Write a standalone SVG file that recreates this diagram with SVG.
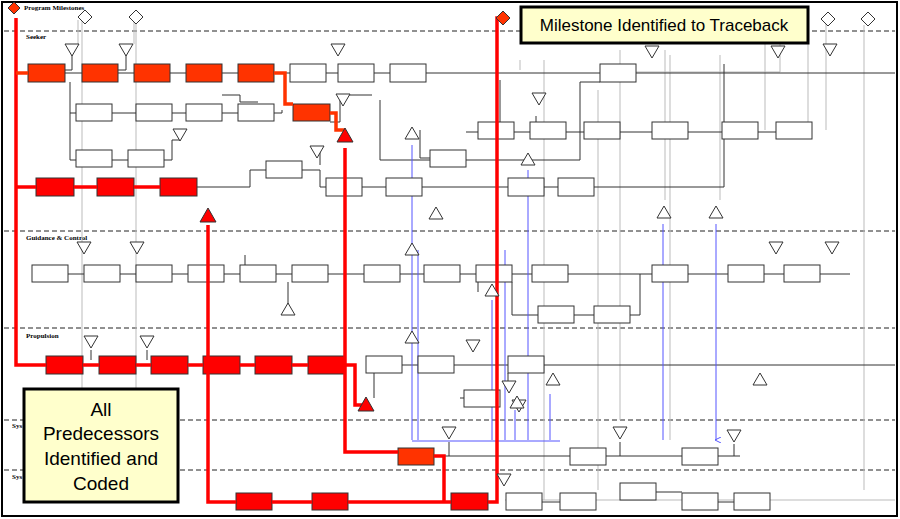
<svg xmlns="http://www.w3.org/2000/svg" xmlns:xlink="http://www.w3.org/1999/xlink" width="900" height="519" viewBox="0 0 900 519">
<style>
.w{fill:#fff;stroke:#333;stroke-width:1}
.r{fill:#f00;stroke:#333;stroke-width:1}
.o{fill:#ff3300;stroke:#333;stroke-width:1}
.ln{fill:none;stroke:#333;stroke-width:1}
.g{fill:none;stroke:#bbb;stroke-width:1}
.b{fill:none;stroke:#55f;stroke-width:1;marker-end:url(#ab)}
.rd{fill:none;stroke:#f00;stroke-width:3.5}
.ro{fill:none;stroke:#ff3300;stroke-width:3.5}
.dash{stroke:#222;stroke-width:1;stroke-dasharray:5,3}
.lane{font-family:"Liberation Serif",serif;font-size:7px;font-weight:bold;fill:#000}
.call{fill:#ffffcc;stroke:#000;stroke-width:3}
.ct{font-family:"Liberation Sans",Arial,sans-serif;fill:#000}
</style>
<defs>
<marker id="ab" markerWidth="6" markerHeight="6" refX="3" refY="5" orient="auto" markerUnits="userSpaceOnUse"><path d="M0,0 L3,6 L6,0" fill="none" stroke="#55f"/></marker>
<path id="td" d="M-7,0 H7 L0,12 Z" fill="#fff" stroke="#333"/>
<path id="tu" d="M-7,12 H7 L0,0 Z" fill="#fff" stroke="#333"/>
<path id="tr" d="M-8,14 H8 L0,0 Z" fill="#f00" stroke="#333"/>
<path id="dm" d="M-7,0 L0,-7 L7,0 L0,7 Z" fill="#fff" stroke="#333"/>
</defs>
<rect x="0" y="0" width="900" height="519" fill="#fff"/>
<rect x="2" y="2" width="895" height="514" fill="none" stroke="#000" stroke-width="2"/>
<g id="lanes">
<line class="dash" x1="4" y1="31" x2="895" y2="31"/>
<line class="dash" x1="4" y1="231" x2="895" y2="231"/>
<line class="dash" x1="4" y1="328" x2="895" y2="328"/>
<line class="dash" x1="4" y1="420" x2="895" y2="420"/>
<line class="dash" x1="4" y1="470" x2="895" y2="470"/>
<text class="lane" x="24" y="10">Program Milestones</text>
<text class="lane" x="26" y="39">Seeker</text>
<text class="lane" x="26" y="240">Guidance &amp; Control</text>
<text class="lane" x="26" y="338">Propulsion</text>
<text class="lane" x="12" y="428" font-size="5">Sys</text>
<text class="lane" x="12" y="479" font-size="5">Sys</text>
</g>
<g id="connectors">
<path class="g" d="M78,20 V44 M82,20 V490 M134,20 V44 M136,20 V490 M808,20 V130 M826,20 V130 M864,25 V490 M598,90 V490 M620,50 V420 M665,50 V200 M670,55 V440 M720,55 V200 M765,40 V130 M520,60 V70 M544,60 V500 M505,500 H895 M636,72 H780 V20"/>
<path class="ln" d="M65,73 H82 M118,73 H134 M170,73 H186 M222,73 H238 M274,73 H290 M326,73 H338 M374,73 H390 M426,73 H895 M72,52 V70 H65 M126,52 V70 H118 M70,82 V160 H76 M70,113 H76 M112,113 H136 M172,113 H186 M222,113 H238 M112,160 H128 M164,160 H172 V140 H180 M222,95 H240 V102 H258 M274,113 H282 V110 M362,187 H386 M422,187 H508 M544,187 H558 M594,187 H724 V64 M302,170 H320 V187 H326 M266,170 H250 V187 H197 M68,274 H84 M120,274 H136 M172,274 H188 M224,274 H240 M276,274 H292 M328,274 H364 M400,274 H424 M460,274 H476 M512,274 H532 M568,274 H652 M688,274 H728 M764,274 H784 M820,274 H850 M574,315 H594 M630,315 H640 V274 M512,282 V315 H538 M478,292 V282 M402,365 H418 M454,365 H508 M544,365 H895 M434,456 H570 M606,456 H682 M718,456 H740 M542,502 H560 M656,492 H682 M718,502 H734 M466,132 H478 M514,132 H530 M566,132 H584 M620,132 H652 M688,132 H722 M758,132 H776 M460,398 H464 M430,158 H420 V130 M380,100 V160 H580 V90 M340,100 V122 H330 M348,95 H372 M600,82 H580 V90 M536,116 V122 M500,80 V122 M320,150 V165 M288,282 V305 M245,255 V274 M91,350 V360 M147,350 V360 M374,398 V373 M508,383 V373 M449,442 V456 M620,442 V456 M734,444 V456"/>
<path class="b" d="M412,145 V440 M418,250 V440 M492,300 V440 M505,250 V440 M515,410 V440 M528,170 V440 M550,394 V440 M663,224 V440 M716,224 V440"/>
<path d="M412,441 H560" fill="none" stroke="#55f"/>
</g>
<g id="seeker">
<rect class="o" x="28" y="64" width="37" height="18"/><rect class="o" x="82" y="64" width="36" height="18"/><rect class="o" x="134" y="64" width="36" height="18"/><rect class="o" x="186" y="64" width="36" height="18"/><rect class="o" x="238" y="64" width="36" height="18"/>
<rect class="w" x="290" y="64" width="36" height="18"/><rect class="w" x="338" y="64" width="36" height="18"/><rect class="w" x="390" y="64" width="36" height="18"/><rect class="w" x="600" y="64" width="36" height="18"/>
<rect class="w" x="76" y="104" width="36" height="17"/><rect class="w" x="136" y="104" width="36" height="17"/><rect class="w" x="186" y="104" width="36" height="17"/><rect class="w" x="238" y="104" width="36" height="17"/><rect class="o" x="293" y="104" width="37" height="17"/>
<rect class="w" x="478" y="122" width="36" height="17"/><rect class="w" x="530" y="122" width="36" height="17"/><rect class="w" x="584" y="122" width="36" height="17"/><rect class="w" x="652" y="122" width="36" height="17"/><rect class="w" x="722" y="122" width="36" height="17"/><rect class="w" x="776" y="122" width="36" height="17"/>
<rect class="w" x="76" y="150" width="36" height="17"/><rect class="w" x="128" y="150" width="36" height="17"/><rect class="w" x="430" y="150" width="36" height="17"/><rect class="w" x="266" y="161" width="36" height="17"/>
<rect class="r" x="36" y="178" width="38" height="18"/><rect class="r" x="97" y="178" width="37" height="18"/><rect class="r" x="160" y="178" width="37" height="18"/>
<rect class="w" x="326" y="178" width="36" height="18"/><rect class="w" x="386" y="178" width="36" height="18"/><rect class="w" x="508" y="178" width="36" height="18"/><rect class="w" x="558" y="178" width="36" height="18"/>
</g>
<g id="guidance">
<rect class="w" x="32" y="265" width="36" height="17"/><rect class="w" x="84" y="265" width="36" height="17"/><rect class="w" x="136" y="265" width="36" height="17"/><rect class="w" x="188" y="265" width="36" height="17"/><rect class="w" x="240" y="265" width="36" height="17"/><rect class="w" x="292" y="265" width="36" height="17"/><rect class="w" x="364" y="265" width="36" height="17"/><rect class="w" x="424" y="265" width="36" height="17"/><rect class="w" x="476" y="265" width="36" height="17"/><rect class="w" x="532" y="265" width="36" height="17"/><rect class="w" x="652" y="265" width="36" height="17"/><rect class="w" x="728" y="265" width="36" height="17"/><rect class="w" x="784" y="265" width="36" height="17"/>
<rect class="w" x="538" y="306" width="36" height="17"/><rect class="w" x="594" y="306" width="36" height="17"/>
</g>
<g id="propulsion">
<rect class="r" x="46" y="356" width="37" height="18"/><rect class="r" x="99" y="356" width="37" height="18"/><rect class="r" x="151" y="356" width="37" height="18"/><rect class="r" x="203" y="356" width="37" height="18"/><rect class="r" x="255" y="356" width="37" height="18"/><rect class="r" x="308" y="356" width="37" height="18"/>
<rect class="w" x="366" y="356" width="36" height="17"/><rect class="w" x="418" y="356" width="36" height="17"/><rect class="w" x="508" y="356" width="36" height="17"/><rect class="w" x="464" y="390" width="36" height="17"/>
</g>
<g id="systems">
<rect class="o" x="398" y="448" width="36" height="17"/><rect class="w" x="570" y="448" width="36" height="17"/><rect class="w" x="682" y="448" width="36" height="17"/>
<rect class="w" x="620" y="483" width="36" height="17"/>
<rect class="r" x="236" y="493" width="36" height="17"/><rect class="r" x="312" y="493" width="36" height="17"/><rect class="r" x="451" y="493" width="37" height="17"/>
<rect class="w" x="506" y="493" width="36" height="17"/><rect class="w" x="560" y="493" width="36" height="17"/><rect class="w" x="682" y="493" width="36" height="17"/><rect class="w" x="734" y="493" width="36" height="17"/>
</g>
<g id="trace-path">
<path class="rd" d="M16,18 V365 H46 M83,365 H99 M136,365 H151 M188,365 H203 M240,365 H255 M292,365 H308 M345,365 H355 V405 H366 M16,187 H36 M74,187 H97 M134,187 H160 M208,225 V502 H236 M272,502 H312 M348,502 H451 M345,148 V452 H398 M434,456 H444 V502 M488,502 H497 V18 H504"/>
<path class="ro" d="M16,73 H28 M274,73 H285 V104 H293 M330,113 H336 V130 H345"/>
</g>
<g id="markers">
<path d="M8,8 L14,2 L20,8 L14,14 Z" fill="#ff3300" stroke="#333"/>
<path d="M496,18 L503,11 L510,18 L503,25 Z" fill="#ff3300" stroke="#333"/>
<use href="#dm" x="85" y="17"/><use href="#dm" x="136" y="17"/>
<use href="#dm" x="828" y="19"/><use href="#dm" x="868" y="19"/>
<use href="#td" x="72" y="44"/><use href="#td" x="126" y="44"/><use href="#td" x="180" y="129"/><use href="#td" x="317" y="146"/><use href="#td" x="343" y="94"/><use href="#td" x="539" y="93"/><use href="#td" x="652" y="46"/><use href="#td" x="778" y="46"/><use href="#td" x="830" y="44"/><use href="#td" x="338" y="44"/><use href="#td" x="84" y="242"/><use href="#td" x="137" y="242"/><use href="#td" x="776" y="242"/><use href="#td" x="832" y="242"/><use href="#td" x="91" y="336"/><use href="#td" x="147" y="336"/><use href="#td" x="473" y="340"/><use href="#td" x="509" y="381"/><use href="#td" x="519" y="400"/><use href="#td" x="449" y="427"/><use href="#td" x="620" y="427"/><use href="#td" x="734" y="430"/><use href="#td" x="504" y="474"/>
<use href="#tu" x="412" y="127"/><use href="#tu" x="528" y="153"/><use href="#tu" x="436" y="207"/><use href="#tu" x="412" y="243"/><use href="#tu" x="288" y="303"/><use href="#tu" x="412" y="331"/><use href="#tu" x="492" y="284"/><use href="#tu" x="664" y="206"/><use href="#tu" x="716" y="206"/><use href="#tu" x="553" y="373"/><use href="#tu" x="517" y="396"/><use href="#tu" x="760" y="373"/>
<use href="#tr" x="345" y="128"/><use href="#tr" x="208" y="208"/><use href="#tr" x="366" y="397"/>
</g>
<g id="callout-top">
<rect class="call" x="521" y="7" width="287" height="36"/>
<text class="ct" x="664" y="31" font-size="17" text-anchor="middle">Milestone Identified to Traceback</text>
</g>
<g id="callout-bottom">
<rect class="call" x="24" y="389" width="154" height="113"/>
<text class="ct" x="101" y="416" font-size="19" text-anchor="middle">All</text>
<text class="ct" x="101" y="440" font-size="19" text-anchor="middle">Predecessors</text>
<text class="ct" x="101" y="465" font-size="19" text-anchor="middle">Identified and</text>
<text class="ct" x="101" y="490" font-size="19" text-anchor="middle">Coded</text>
</g>
</svg>
